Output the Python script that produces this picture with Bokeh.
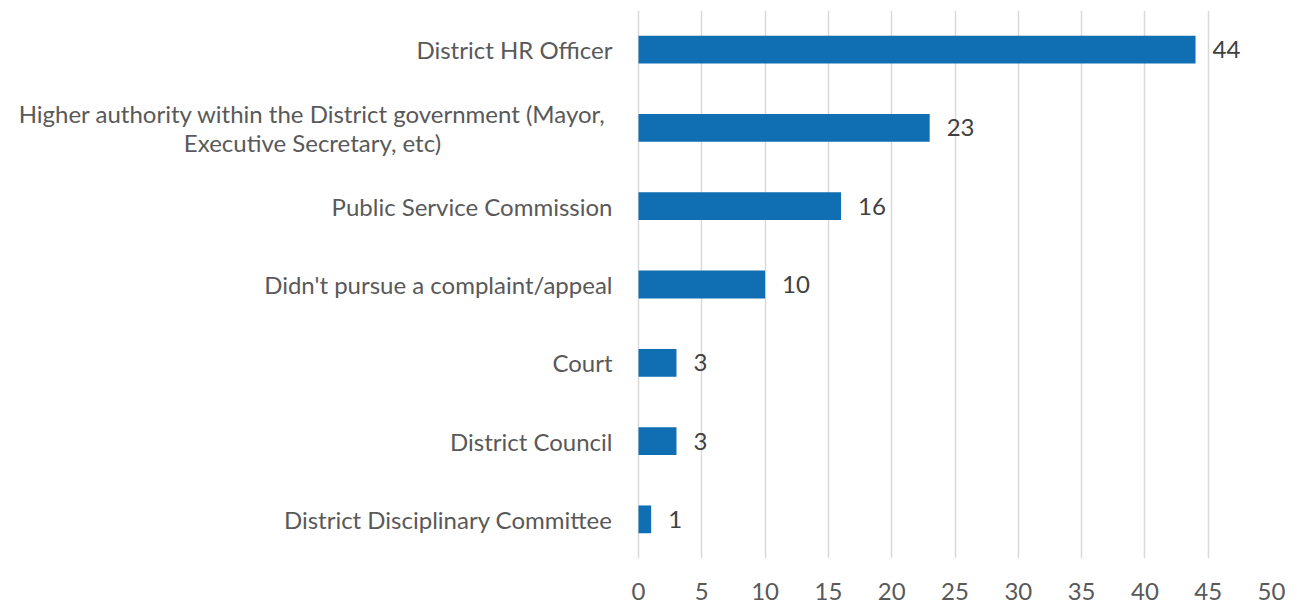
from bokeh.plotting import figure
from bokeh.models import ColumnDataSource, FixedTicker
from bokeh.core.properties import value
from bokeh.embed import file_html
from bokeh.resources import INLINE

categories = [
    "District HR Officer",
    "Higher authority within the District government (Mayor, Executive Secretary, etc)",
    "Public Service Commission",
    "Didn't pursue a complaint/appeal",
    "Court",
    "District Council",
    "District Disciplinary Committee",
]
display_labels = [
    "District HR Officer",
    "Higher authority within the District government (Mayor,\nExecutive Secretary, etc)",
    "Public Service Commission",
    "Didn't pursue a complaint/appeal",
    "Court",
    "District Council",
    "District Disciplinary Committee",
]
values = [44, 23, 16, 10, 3, 3, 1]
x_ticks = [0, 5, 10, 15, 20, 25, 30, 35, 40, 45, 50]

FONT = "Lato"
FS = "24px"
order = list(reversed(categories))
src = ColumnDataSource(dict(cat=categories, val=values, lab=[str(v) for v in values]))

W, H = 1289, 602
ZERO_PX = 638      # pixel position of x = 0 inside the figure
RIGHT = 18
XMAX = 50
scale = (W - RIGHT - ZERO_PX) / XMAX
xmin = -ZERO_PX / scale

p = figure(width=W, height=H, y_range=order, x_range=(xmin, XMAX),
           output_backend="svg", toolbar_location=None,
           min_border_left=0, min_border_right=RIGHT, min_border_top=10, min_border_bottom=38)
p.y_range.range_padding = 0
p.outline_line_color = None

p.hbar(y="cat", right="val", left=0, height=0.355, source=src,
       fill_color="#0F6FB2", line_color=None)

p.text(x="val", y="cat", text="lab", source=src, x_offset=17,
       text_baseline="middle", text_font=value(FONT), text_font_size=FS,
       text_color="#404040")

# category labels: single-line right-aligned, multi-line block centred
single = [i for i, t in enumerate(display_labels) if "\n" not in t]
multi = [i for i, t in enumerate(display_labels) if "\n" in t]
ssrc = ColumnDataSource(dict(cat=[categories[i] for i in single],
                             txt=[display_labels[i] for i in single],
                             x0=[0 for _ in single]))
p.text(x="x0", y="cat", text="txt", source=ssrc, x_offset=-26,
       text_align="right", text_baseline="middle", text_font=value(FONT),
       text_font_size=FS, text_color="#595959")
msrc = ColumnDataSource(dict(cat=[categories[i] for i in multi],
                             txt=[display_labels[i] for i in multi],
                             x0=[0 for _ in multi]))
p.text(x="x0", y="cat", text="txt", source=msrc, x_offset=-326,
       text_align="center", text_baseline="middle", text_font=value(FONT),
       text_font_size=FS, text_color="#595959", text_line_height=1.0)

p.xaxis.ticker = FixedTicker(ticks=x_ticks)
p.xaxis.axis_line_color = None
p.xaxis.major_tick_line_color = None
p.xaxis.minor_tick_line_color = None
p.xaxis.major_label_text_font = FONT
p.xaxis.major_label_text_font_size = FS
p.xaxis.major_label_text_color = "#595959"
p.xaxis.major_label_standoff = 18

p.yaxis.visible = False

p.xgrid.grid_line_color = "#D9D9D9"
p.xgrid.grid_line_width = 1.5
p.ygrid.grid_line_color = None

open("out.html", "w").write(file_html(p, INLINE))
